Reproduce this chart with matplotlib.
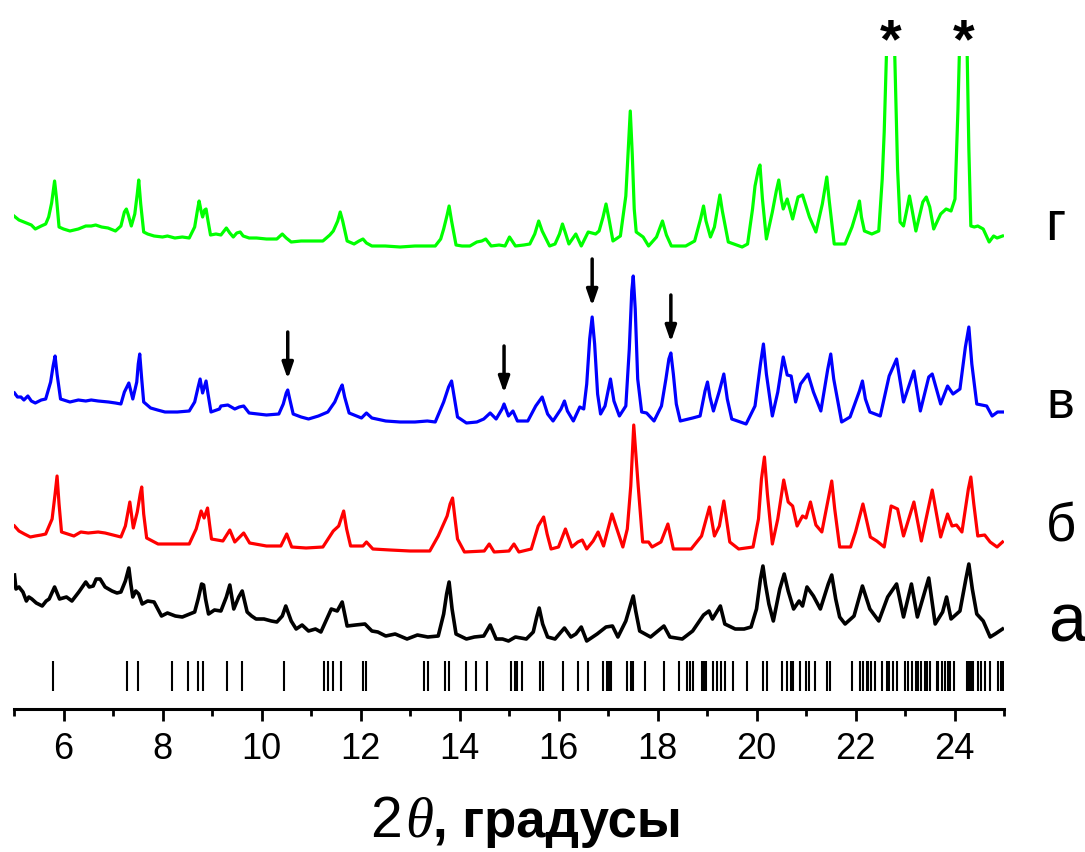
import matplotlib
matplotlib.use("Agg")
import matplotlib.pyplot as plt
import numpy as np

plt.rcParams['font.family'] = ['Liberation Sans', 'DejaVu Sans']

# ---------------- data: (2theta [deg], stacked intensity [arb. units]) ----
green_pts = [(5.00,493),(5.10,489),(5.25,486),(5.35,484),(5.43,480),(5.55,483),(5.64,485),(5.70,492),
    (5.76,506),(5.82,528),(5.86,510),(5.91,482),(6.00,480),(6.13,478),(6.30,480),(6.45,483),(6.56,483),
    (6.65,484),(6.77,482),(6.90,481),(7.05,478),(7.16,483),(7.23,497),(7.27,500),(7.31,494),(7.37,483),
    (7.44,495),(7.49,515),(7.52,529),(7.56,505),(7.62,477),(7.70,475),(7.83,473),(8.00,472),(8.10,473),
    (8.25,471),(8.40,472),(8.54,471),(8.65,482),(8.71,500),(8.74,508),(8.78,498),(8.81,492),(8.85,499),
    (8.88,500),(8.92,488),(8.97,474),(9.08,475),(9.18,474),(9.29,481),(9.36,476),(9.43,472),(9.50,476),
    (9.57,477),(9.63,473),(9.75,471),(9.90,471),(10.10,470),(10.31,470),(10.42,475),(10.50,471),(10.60,467),
    (10.80,468),(11.00,468),(11.24,468),(11.38,474),(11.45,478),(11.54,488),(11.59,497),(11.64,488),
    (11.73,468),(11.87,465),(11.97,468),(12.05,470),(12.12,466),(12.23,463),(12.50,463),(12.80,462),
    (13.10,463),(13.35,463),(13.51,463),(13.62,470),(13.68,480),(13.75,494),(13.79,503),(13.84,488),
    (13.93,464),(14.05,463),(14.21,463),(14.35,467),(14.45,468),(14.53,470),(14.64,463),(14.80,464),
    (14.92,463),(15.01,472),(15.13,463),(15.30,464),(15.42,465),(15.52,475),(15.60,488),(15.67,478),
    (15.82,463),(15.93,465),(16.02,475),(16.08,485),(16.14,476),(16.21,465),(16.35,475),(16.46,463),
    (16.60,477),(16.75,475),(16.82,478),(16.90,492),(16.96,505),(17.02,490),(17.10,468),(17.25,473),
    (17.36,513),(17.41,560),(17.45,598),(17.49,555),(17.53,500),(17.57,477),(17.71,472),(17.82,463),
    (17.98,472),(18.10,488),(18.18,474),(18.28,463),(18.57,463),(18.75,468),(18.87,490),(18.93,503),
    (18.98,488),(19.07,472),(19.15,482),(19.22,502),(19.26,514),(19.31,498),(19.43,467),(19.71,462),
    (19.82,465),(19.92,500),(19.97,523),(20.04,540),(20.07,544),(20.12,510),(20.20,470),(20.32,497),
    (20.40,518),(20.45,529),(20.50,510),(20.54,500),(20.62,510),(20.73,490),(20.84,512),(20.93,514),
    (21.07,492),(21.20,477),(21.33,505),(21.38,520),(21.42,532),(21.47,508),(21.57,465),(21.79,465),
    (21.93,482),(22.04,500),(22.08,508),(22.12,492),(22.18,478),(22.33,475),(22.47,478),(22.54,530),
    (22.58,577),(22.65,700),(22.71,780),(22.77,700),(22.85,540),(22.90,487),(22.97,483),(23.04,500),
    (23.09,513),(23.14,500),(23.22,478),(23.36,507),(23.43,512),(23.50,502),(23.58,480),(23.72,495),
    (23.83,500),(23.93,498),(24.01,510),(24.07,600),(24.12,700),(24.18,800),(24.24,700),(24.29,560),
    (24.33,483),(24.40,482),(24.47,483),(24.58,480),(24.70,467),(24.79,473),(24.86,471),(24.97,473)]

blue_pts = [(5.01,316),(5.07,312),(5.14,312),(5.20,309),(5.28,313),(5.35,308),(5.43,306),(5.55,309),
    (5.64,310),(5.74,327),(5.79,343),(5.83,353),(5.87,335),(5.94,310),(6.13,307),(6.30,309),(6.45,308),
    (6.56,309),(6.70,308),(6.91,307),(7.05,306),(7.16,305),(7.23,317),(7.32,326),(7.36,318),(7.40,310),
    (7.48,327),(7.51,345),(7.54,355),(7.58,330),(7.62,307),(7.76,301),(7.90,299),(8.05,297),(8.30,297),
    (8.54,298),(8.65,307),(8.72,322),(8.76,330),(8.81,316),(8.88,328),(8.92,315),(8.98,297),(9.15,300),
    (9.18,303),(9.32,304),(9.46,300),(9.55,302),(9.64,303),(9.75,296),(10.10,294),(10.35,295),(10.44,305),
    (10.50,316),(10.53,319),(10.57,310),(10.64,295),(10.80,292),(10.95,290),(11.15,293),(11.34,297),
    (11.48,307),(11.59,320),(11.63,324),(11.68,312),(11.77,296),(12.02,291),(12.12,296),(12.23,291),
    (12.51,288),(12.80,287),(13.10,287),(13.35,288),(13.51,287),(13.68,307),(13.78,322),(13.84,328),
    (13.90,310),(13.96,292),(14.14,286),(14.35,287),(14.49,290),(14.62,296),(14.74,290),(14.86,300),
    (14.90,305),(14.99,293),(15.08,298),(15.17,288),(15.38,288),(15.54,303),(15.67,312),(15.78,295),
    (15.89,288),(16.05,300),(16.12,308),(16.18,298),(16.30,288),(16.43,302),(16.51,300),(16.57,325),
    (16.63,370),(16.68,392),(16.73,365),(16.79,315),(16.85,295),(16.94,303),(17.05,330),(17.12,308),
    (17.23,293),(17.36,303),(17.43,360),(17.48,418),(17.51,433),(17.55,400),(17.60,330),(17.68,297),
    (17.78,296),(17.93,288),(18.08,303),(18.17,330),(18.23,350),(18.27,356),(18.32,335),(18.38,305),
    (18.46,288),(18.71,291),(18.86,293),(18.96,318),(19.01,327),(19.06,312),(19.13,298),(19.25,318),
    (19.34,335),(19.41,310),(19.50,290),(19.79,285),(19.97,303),(20.08,345),(20.14,365),(20.20,335),
    (20.32,293),(20.43,317),(20.54,352),(20.62,334),(20.70,333),(20.79,307),(20.89,325),(21.04,335),
    (21.15,317),(21.30,298),(21.44,340),(21.50,355),(21.56,330),(21.72,287),(21.89,292),(22.08,318),
    (22.14,328),(22.20,310),(22.29,297),(22.50,293),(22.68,333),(22.83,350),(22.97,307),(23.18,338),
    (23.31,298),(23.48,332),(23.55,335),(23.72,305),(23.86,323),(23.97,315),(24.11,320),(24.22,362),
    (24.29,382),(24.35,345),(24.45,305),(24.55,304),(24.65,303),(24.76,293),(24.87,297),(24.97,297)]

red_pts = [(5.01,183),(5.10,178),(5.21,175),(5.33,172),(5.43,173),(5.55,174),(5.64,175),(5.77,190),
    (5.83,215),(5.87,233),(5.91,205),(5.96,177),(6.21,173),(6.35,177),(6.50,176),(6.70,177),(6.84,176),
    (7.00,174),(7.16,172),(7.25,183),(7.34,207),(7.41,181),(7.49,197),(7.55,215),(7.58,222),(7.62,195),
    (7.68,171),(7.91,165),(8.20,165),(8.54,165),(8.68,180),(8.78,198),(8.84,191),(8.91,201),(8.95,185),
    (8.99,170),(9.22,168),(9.36,179),(9.46,167),(9.64,176),(9.76,166),(10.10,163),(10.39,163),(10.51,175),
    (10.61,162),(10.90,161),(11.24,162),(11.45,178),(11.56,183),(11.66,198),(11.72,180),(11.80,163),
    (12.05,163),(12.12,167),(12.25,160),(12.60,159),(13.00,158),(13.40,158),(13.57,173),(13.75,193),
    (13.81,205),(13.86,211),(13.91,190),(13.96,170),(14.10,157),(14.50,158),(14.60,165),(14.70,157),
    (15.00,158),(15.10,165),(15.20,157),(15.45,160),(15.59,183),(15.70,192),(15.77,175),(15.85,160),
    (16.00,162),(16.14,180),(16.27,162),(16.39,167),(16.48,169),(16.57,160),(16.70,168),(16.80,177),
    (16.91,163),(17.00,180),(17.08,195),(17.18,180),(17.30,162),(17.39,180),(17.46,223),(17.52,284),
    (17.57,250),(17.61,223),(17.70,167),(17.82,167),(17.89,162),(18.07,167),(18.21,185),(18.32,160),
    (18.68,160),(18.89,173),(19.05,202),(19.15,173),(19.25,183),(19.34,208),(19.46,167),(19.64,160),
    (19.93,162),(20.04,190),(20.10,230),(20.16,252),(20.22,215),(20.32,165),(20.43,190),(20.55,229),
    (20.64,207),(20.73,203),(20.82,183),(20.93,193),(21.00,191),(21.09,207),(21.20,184),(21.32,177),
    (21.47,215),(21.52,228),(21.58,200),(21.68,162),(21.90,162),(22.00,177),(22.15,205),(22.30,172),
    (22.43,168),(22.58,162),(22.72,203),(22.85,200),(22.97,173),(23.18,207),(23.33,168),(23.55,219),
    (23.72,172),(23.86,195),(23.95,183),(24.04,184),(24.15,177),(24.28,220),(24.33,232),(24.39,205),
    (24.47,173),(24.61,174),(24.72,167),(24.86,162),(24.97,167)]

black_pts = [(5.01,134),(5.04,120),(5.10,122),(5.18,117),(5.25,108),(5.30,112),(5.36,110),(5.45,106),
    (5.57,103),(5.65,108),(5.71,110),(5.82,122),(5.92,110),(6.06,112),(6.17,108),(6.31,117),(6.45,127),
    (6.52,122),(6.60,123),(6.66,130),(6.74,130),(6.84,122),(6.98,118),(7.08,116),(7.16,117),(7.25,128),
    (7.32,141),(7.36,125),(7.40,112),(7.46,118),(7.52,115),(7.59,105),(7.70,108),(7.83,107),(7.98,93),
    (8.10,96),(8.26,93),(8.40,92),(8.55,95),(8.65,97),(8.72,110),(8.79,125),(8.83,124),(8.87,110),
    (8.93,95),(9.05,99),(9.18,98),(9.29,112),(9.36,124),(9.44,100),(9.54,112),(9.61,118),(9.71,97),
    (9.80,93),(9.89,90),(10.05,90),(10.20,88),(10.31,87),(10.42,93),(10.49,103),(10.60,88),(10.70,80),
    (10.82,84),(10.95,78),(11.09,80),(11.20,77),(11.30,88),(11.41,100),(11.53,98),(11.63,107),(11.73,83),
    (11.90,84),(12.09,85),(12.23,78),(12.35,77),(12.51,73),(12.70,75),(12.94,70),(13.15,74),(13.36,72),
    (13.57,73),(13.68,95),(13.74,115),(13.79,127),(13.85,100),(13.93,75),(14.14,70),(14.30,72),(14.49,73),
    (14.62,84),(14.74,70),(14.87,70),(14.99,68),(15.13,72),(15.35,70),(15.49,77),(15.56,92),(15.61,101),
    (15.68,85),(15.78,72),(15.93,70),(16.12,81),(16.25,72),(16.35,75),(16.46,82),(16.57,68),(16.78,75),
    (16.96,82),(17.09,83),(17.20,72),(17.36,88),(17.46,105),(17.51,113),(17.56,98),(17.64,78),(17.86,72),
    (18.13,83),(18.25,72),(18.50,70),(18.71,78),(18.93,94),(19.04,98),(19.11,90),(19.27,103),(19.36,85),
    (19.57,80),(19.75,80),(19.89,82),(20.00,100),(20.08,130),(20.13,143),(20.18,125),(20.25,105),
    (20.34,88),(20.47,120),(20.56,135),(20.64,118),(20.75,100),(20.86,108),(20.93,103),(21.02,122),
    (21.15,113),(21.29,100),(21.45,125),(21.52,134),(21.60,110),(21.68,92),(21.79,85),(21.97,93),
    (22.14,123),(22.29,100),(22.47,88),(22.65,112),(22.83,125),(22.97,92),(23.13,125),(23.25,92),
    (23.48,131),(23.61,85),(23.76,97),(23.84,112),(23.93,90),(24.11,98),(24.23,130),(24.29,145),
    (24.36,120),(24.45,95),(24.58,88),(24.72,72),(24.82,75),(24.97,80)]

# reference reflection positions (bar pattern)
ref_pos = [5.79, 7.28, 7.50, 8.19, 8.51, 8.71, 8.82, 9.31, 9.61, 10.46, 11.26, 11.35, 11.44,
           11.60, 12.06, 12.11, 13.28, 13.37, 13.71, 13.79, 14.13, 14.33, 14.56, 15.05, 15.12,
           15.17, 15.26, 15.63, 15.69, 16.10, 16.40, 16.60, 16.90, 16.97, 17.03, 17.07, 17.38,
           17.46, 17.51, 17.75, 18.14, 18.44, 18.59, 18.66, 18.72, 18.89, 18.94, 18.98, 19.13,
           19.20, 19.28, 19.36, 19.53, 19.80, 20.14, 20.22, 20.51, 20.61, 20.69, 20.73, 20.88,
           21.01, 21.07, 21.18, 21.43, 21.48, 21.92, 22.10, 22.16, 22.23, 22.26, 22.31, 22.39,
           22.54, 22.63, 22.68, 22.76, 22.83, 23.01, 23.07, 23.14, 23.22, 23.27, 23.33, 23.40,
           23.45, 23.51, 23.64, 23.67, 23.74, 23.81, 23.86, 23.91, 23.99, 24.25, 24.29, 24.33,
           24.37, 24.47, 24.54, 24.61, 24.72, 24.88, 24.94, 24.97]
ref_low, ref_high = 18, 48

arrow_pos = [10.53, 14.90, 16.68, 18.27]   # new peaks marked on curve в
star_pos = [22.71, 24.18]                  # peaks marked * on curve г

labels = ['а', 'б', 'в', 'г']
xticks_major = [6, 8, 10, 12, 14, 16, 18, 20, 22, 24]

green_x, green_y = map(list, zip(*green_pts))
blue_x, blue_y = map(list, zip(*blue_pts))
red_x, red_y = map(list, zip(*red_pts))
black_x, black_y = map(list, zip(*black_pts))

# ---------------- figure ---------------------------------------------------------------
W, H = 1085, 853
fig = plt.figure(figsize=(W / 100, H / 100), dpi=100)
ax = fig.add_axes([14 / W, 143 / H, 990 / W, 653 / H])

lw = 2.3
ax.plot(black_x, black_y, color='black', lw=2.6, solid_joinstyle='round')
ax.plot(red_x, red_y, color='#ff0000', lw=lw, solid_joinstyle='round')
ax.plot(blue_x, blue_y, color='#0000ff', lw=lw, solid_joinstyle='round')
ax.plot(green_x, green_y, color='#00ff00', lw=lw, solid_joinstyle='round')

ax.vlines(ref_pos, ref_low, ref_high, color='black', lw=1.5)

# arrows above the new peaks of curve в
for p in arrow_pos:
    tip = np.interp(p, blue_x, blue_y) + 11
    ax.annotate('', xy=(p, tip), xytext=(p, tip + 47),
                arrowprops=dict(arrowstyle='-|>,head_width=0.33,head_length=0.95',
                                color='black', lw=2.5, shrinkA=0, shrinkB=0))

# stars above the clipped peaks of curve г
for p in star_pos:
    ax.text(p, 667, '*', ha='center', va='center', fontsize=40, fontweight='bold',
            clip_on=False)

ax.set_xlim(5, 25)
ax.set_ylim(0, 653)
for s in ['left', 'right', 'top']:
    ax.spines[s].set_visible(False)
ax.spines['bottom'].set_linewidth(2.2)
ax.set_yticks([])
ax.set_xticks(xticks_major)
ax.set_xticks(np.arange(5, 26, 2), minor=True)
ax.tick_params(axis='x', which='major', direction='out', length=8.5, width=2,
               labelsize=26, pad=7)
ax.tick_params(axis='x', which='minor', direction='out', length=5, width=2)

# curve labels
fig.text(1045 / W, (H - 240) / H, labels[3], fontsize=40, va='baseline')
fig.text(1046 / W, (H - 418) / H, labels[2], fontsize=38, va='baseline')
fig.text(1046 / W, (H - 542) / H, labels[1], fontsize=38, va='baseline')
fig.text(1048 / W, (H - 642) / H, labels[0], fontsize=49, va='baseline')

# x label: "2θ, градусы"
fig.canvas.draw()
r = fig.canvas.get_renderer()
yb = (H - 837) / H
t1 = fig.text(370 / W, yb, '2', fontsize=41, va='baseline')
bb = t1.get_window_extent(r)
t2 = fig.text(bb.x1 / W + 3 / W, yb, 'θ', fontsize=41, va='baseline',
              family='Liberation Serif', style='italic')
bb2 = t2.get_window_extent(r)
fig.text(bb2.x1 / W, yb, ', градусы', fontsize=38, va='baseline', fontweight='bold')

fig.savefig('out.png', dpi=100, facecolor='white')
